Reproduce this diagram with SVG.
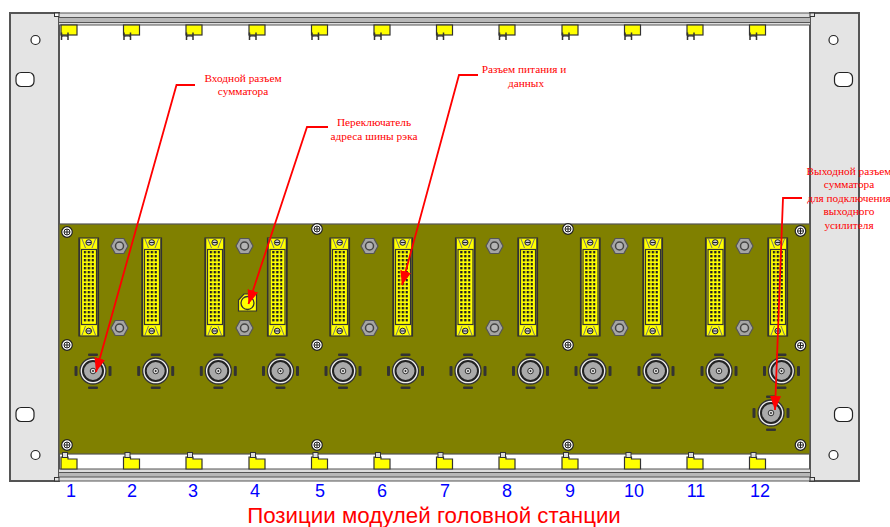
<svg xmlns="http://www.w3.org/2000/svg" width="890" height="527" viewBox="0 0 890 527">
<style>
.ear{fill:#e4e4e4;stroke:#555;stroke-width:2}
.hole{fill:#fff;stroke:#222;stroke-width:1.2}
.red{font-family:"Liberation Serif",serif;font-size:11.3px;fill:#f00;text-anchor:middle}
.num{font-family:"Liberation Sans",sans-serif;font-size:18px;fill:#00f;text-anchor:middle}
.cap{font-family:"Liberation Sans",sans-serif;font-size:22.3px;fill:#f00;text-anchor:middle}
.lead{fill:none;stroke:#f00;stroke-width:1.8;marker-end:url(#ah)}
.yl{fill:#ff0;stroke:#333;stroke-width:1.2}
.dk{fill:#333;stroke:none}
</style>
<defs>
<marker id="ah" markerUnits="userSpaceOnUse" markerWidth="15" markerHeight="11" refX="14" refY="5.500" orient="auto"><path d="M0 0L14 5.500L0 11Z" fill="#f00"/></marker>
<pattern id="pins" width="4" height="4" patternUnits="userSpaceOnUse" x="0.700" y="0"><rect x="0" y="1" width="2.400" height="2.400" fill="#222"/></pattern>
<g id="clipT"><rect x="0" y="0" width="16" height="10" class="yl"/><path d="M0.500 7.500V15M7 7.500V15M0.500 11H7" stroke="#333" stroke-width="1.500" fill="none"/><rect x="2" y="11.700" width="3.500" height="3.300" fill="#fff"/></g>
<g id="clipB"><path d="M0 -1H7V1H16V11H0Z" class="yl"/><rect x="1.500" y="-5.500" width="5" height="5" fill="#ddd" stroke="#333" stroke-width="1"/></g>
<g id="screw"><circle r="5.300" fill="#fff" stroke="#222" stroke-width="1.200"/><circle r="3" fill="none" stroke="#222" stroke-width="1"/><path d="M-3 0H3M0 -3V3" stroke="#222" stroke-width="1"/></g>
<g id="nut"><path d="M-8.500 0L-4.300 -7.500H4.300L8.500 0L4.300 7.500H-4.300Z" fill="#a5a5a5" stroke="#555" stroke-width="1.200"/><circle r="4" fill="#b5b5b5" stroke="#444" stroke-width="1.500"/></g>
<g id="bnc"><rect x="-5" y="-17.500" width="10" height="2.500" rx="1" class="dk"/><rect x="-5" y="15.500" width="10" height="2.500" rx="1" class="dk"/><rect x="-18.500" y="-5" width="3" height="10" rx="1" class="dk"/><rect x="15.500" y="-5" width="3" height="10" rx="1" class="dk"/><circle r="13" fill="#eee" stroke="#333" stroke-width="1.300"/><circle r="10" fill="#aaa" stroke="#222" stroke-width="2"/><circle r="2.800" fill="#ddd" stroke="#333" stroke-width="1"/><circle r="0.900" fill="#222"/></g>
<g id="dconn"><rect x="0" y="0" width="19.500" height="98" class="yl"/><path d="M0.500 0.500V98M19 0.500V98" stroke="#333" stroke-width="1.500"/><path d="M3 1L6.500 10M16.500 1L13 10M3 97L6.500 88M16.500 97L13 88" stroke="#777" stroke-width="1"/><rect x="2.500" y="11.500" width="15" height="75" fill="#ff0" stroke="#333" stroke-width="1.200"/><rect x="4.500" y="13" width="10.500" height="72" fill="url(#pins)"/><circle cx="9.700" cy="4.500" r="2.800" fill="#ccc" stroke="#222" stroke-width="1"/><path d="M7.500 4.500H12" stroke="#222"/><circle cx="9.700" cy="93" r="2.800" fill="#ccc" stroke="#222" stroke-width="1"/><path d="M7.500 93H12" stroke="#222"/></g>
</defs>
<rect width="890" height="527" fill="#fff"/>
<g id="chassis">
<rect class="ear" x="10" y="13" width="49" height="468"/>
<rect class="ear" x="810" y="13" width="49" height="468"/>
<circle class="hole" cx="35.500" cy="40" r="4.500"/><rect class="hole" x="16" y="72.500" width="18" height="14" rx="5"/>
<rect class="hole" x="16" y="407.500" width="18" height="14" rx="5"/><circle class="hole" cx="35.500" cy="455" r="4.500"/>
<circle class="hole" cx="833.500" cy="40" r="4.500"/><rect class="hole" x="834.500" y="72.500" width="18" height="14" rx="5"/>
<rect class="hole" x="834.500" y="407.500" width="18" height="14" rx="5"/><circle class="hole" cx="833.500" cy="455" r="4.500"/>
<rect x="59" y="13" width="751" height="12" fill="#ddd"/>
<rect x="59" y="18" width="751" height="5" fill="#b8b8b8"/>
<path d="M54 13H859M59 17.500H810M59 22.500H810M59 25H810" stroke="#555" stroke-width="1.200" fill="none"/>
<rect x="54.500" y="13" width="4.500" height="3.500" fill="#fff" stroke="#333"/>
<rect x="810" y="13" width="4.500" height="3.500" fill="#e4e4e4" stroke="#333"/>
<rect x="59" y="469" width="751" height="12" fill="#ddd"/>
<rect x="59" y="473" width="751" height="4" fill="#b8b8b8"/>
<path d="M59 469H810M59 472.500H810M59 477H810M10 481H859" stroke="#555" stroke-width="1.200" fill="none"/>
<rect x="54.500" y="477.500" width="4.500" height="3.500" fill="#e4e4e4" stroke="#333"/>
<rect x="810" y="477.500" width="4.500" height="3.500" fill="#e4e4e4" stroke="#333"/>
<rect x="59" y="224" width="751" height="230" fill="#808000" stroke="#555" stroke-width="1.200"/>
</g>
<g id="top-clips">
<use href="#clipT" x="61" y="25"/><use href="#clipT" x="123.500" y="25"/><use href="#clipT" x="186" y="25"/><use href="#clipT" x="249" y="25"/><use href="#clipT" x="311.500" y="25"/><use href="#clipT" x="374" y="25"/><use href="#clipT" x="436.500" y="25"/><use href="#clipT" x="499" y="25"/><use href="#clipT" x="562" y="25"/><use href="#clipT" x="624.500" y="25"/><use href="#clipT" x="687" y="25"/><use href="#clipT" x="749.500" y="25"/>
</g>
<g id="bottom-clips">
<use href="#clipB" x="61" y="458"/><use href="#clipB" x="123.500" y="458"/><use href="#clipB" x="186" y="458"/><use href="#clipB" x="249" y="458"/><use href="#clipB" x="311.500" y="458"/><use href="#clipB" x="374" y="458"/><use href="#clipB" x="436.500" y="458"/><use href="#clipB" x="499" y="458"/><use href="#clipB" x="562" y="458"/><use href="#clipB" x="624.500" y="458"/><use href="#clipB" x="687" y="458"/><use href="#clipB" x="749.500" y="458"/>
</g>
<g id="screws">
<use href="#screw" x="67" y="232"/><use href="#screw" x="317" y="229"/><use href="#screw" x="568" y="229"/><use href="#screw" x="800.500" y="231"/>
<use href="#screw" x="67" y="345"/><use href="#screw" x="317" y="345"/><use href="#screw" x="568" y="345"/><use href="#screw" x="800.500" y="345.500"/>
<use href="#screw" x="67" y="445"/><use href="#screw" x="317" y="445"/><use href="#screw" x="568" y="445"/><use href="#screw" x="800.500" y="445"/>
</g>
<g id="connectors-d">
<use href="#dconn" x="79" y="238"/><use href="#dconn" x="142" y="238"/><use href="#dconn" x="205" y="238"/><use href="#dconn" x="267.500" y="238"/><use href="#dconn" x="330" y="238"/><use href="#dconn" x="393" y="238"/><use href="#dconn" x="455.500" y="238"/><use href="#dconn" x="518" y="238"/><use href="#dconn" x="580.500" y="238"/><use href="#dconn" x="643" y="238"/><use href="#dconn" x="705.500" y="238"/><use href="#dconn" x="768" y="238"/>
</g>
<g id="nuts">
<use href="#nut" x="119.500" y="246"/><use href="#nut" x="119.500" y="328"/><use href="#nut" x="244.500" y="246"/><use href="#nut" x="244.500" y="328"/><use href="#nut" x="369.500" y="246"/><use href="#nut" x="369.500" y="328"/><use href="#nut" x="494.500" y="246"/><use href="#nut" x="494.500" y="328"/><use href="#nut" x="619.500" y="246"/><use href="#nut" x="619.500" y="328"/><use href="#nut" x="744.500" y="246"/><use href="#nut" x="744.500" y="328"/>
</g>
<g id="bus-switch">
<path d="M238.500 311V300L244 294H256.500V311Z" class="yl"/><circle cx="247.500" cy="303" r="6.500" fill="#ff0" stroke="#333" stroke-width="1.300"/>
</g>
<g id="bnc-connectors">
<use href="#bnc" x="93" y="371"/><use href="#bnc" x="155.700" y="371"/><use href="#bnc" x="218.300" y="371"/><use href="#bnc" x="280.500" y="371"/><use href="#bnc" x="343" y="371"/><use href="#bnc" x="405.500" y="371"/><use href="#bnc" x="468" y="371"/><use href="#bnc" x="530.500" y="371"/><use href="#bnc" x="593" y="371"/><use href="#bnc" x="656" y="371"/><use href="#bnc" x="719" y="371"/><use href="#bnc" x="781.500" y="371"/><use href="#bnc" x="771" y="413"/>
</g>
<g id="connectors">
<path class="lead" d="M195 85H176.500L96 372"/>
<path class="lead" d="M328 127H307L248.500 304"/>
<path class="lead" d="M478 75H459L402 285"/>
<path class="lead" d="M802 198H783L775 410"/>
</g>
<g id="labels">
<text class="red" x="243" y="82">Входной разъем</text><text class="red" x="243" y="95">сумматора</text>
<text class="red" x="374" y="126">Переключатель</text><text class="red" x="374" y="140">адреса шины рэка</text>
<text class="red" x="524" y="73">Разъем питания и</text><text class="red" x="526" y="87">данных</text>
<text class="red" x="849" y="175">Выходной разъем</text><text class="red" x="849" y="188">сумматора</text><text class="red" x="849" y="202">для подключения</text><text class="red" x="849" y="215">выходного</text><text class="red" x="849" y="229">усилителя</text>
<text class="num" x="71" y="497">1</text><text class="num" x="132" y="497">2</text><text class="num" x="193" y="497">3</text><text class="num" x="255" y="497">4</text><text class="num" x="320" y="497">5</text><text class="num" x="382" y="497">6</text><text class="num" x="445" y="497">7</text><text class="num" x="507" y="497">8</text><text class="num" x="570" y="497">9</text><text class="num" x="634" y="497">10</text><text class="num" x="696" y="497">11</text><text class="num" x="760" y="497">12</text>
<text class="cap" x="434" y="523">Позиции модулей головной станции</text>
</g>
</svg>
